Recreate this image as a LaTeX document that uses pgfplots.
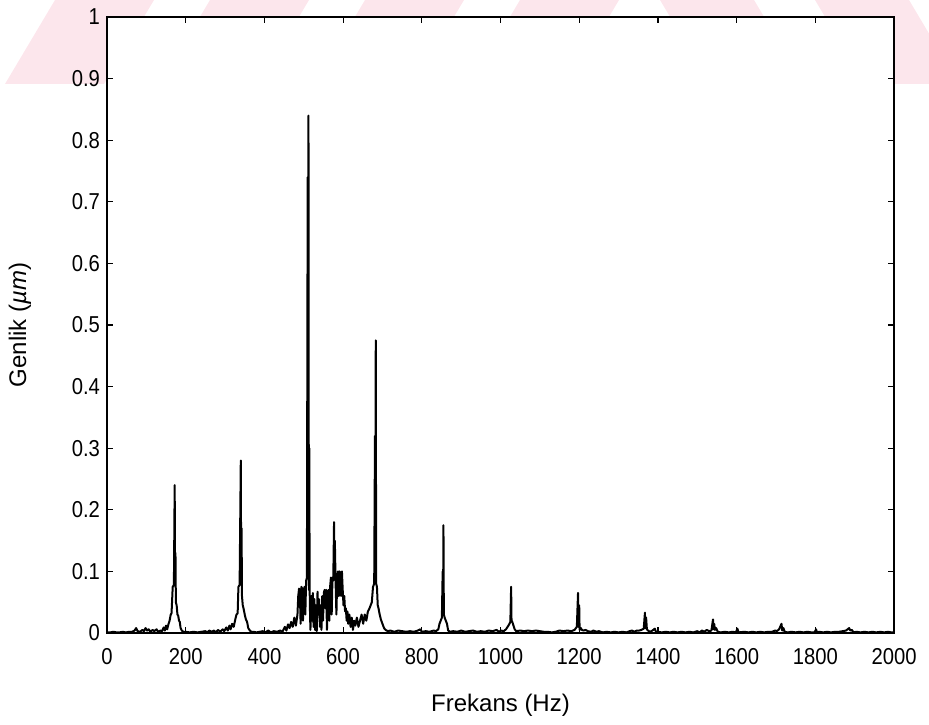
\documentclass[border=0pt]{standalone}
\usepackage{fontspec}
\setmainfont{Liberation Sans}
\newfontfamily\tickfont[FakeStretch=0.88]{Liberation Sans}
\usepackage{pgfplots}
\pgfplotsset{compat=1.18}
\usepackage{pgfplotstable}
\definecolor{wm}{RGB}{252,230,236}

\pgfplotstableread{
f a
0 0.001
8 0.001
16 0.002
24 0.001
32 0.001
40 0.002
48 0.001
56 0.002
64 0.002
70 0.004
74 0.008
78 0.003
84 0.002
90 0.005
94 0.003
98 0.008
102 0.004
106 0.006
110 0.002
116 0.005
120 0.003
126 0.006
130 0.002
136 0.004
140 0.003
144 0.009
147 0.004
150 0.012
153 0.006
156 0.014
159 0.02
162 0.03
164 0.032
167 0.075
170 0.078
172 0.24
173 0.085
174 0.13
175 0.05
177 0.045
179 0.03
181 0.028
183 0.02
185 0.018
187 0.008
190 0.004
194 0.002
200 0.002
210 0.001
220 0.002
230 0.001
240 0.002
250 0.003
255 0.001
260 0.004
266 0.002
272 0.004
277 0.001
282 0.005
288 0.002
294 0.006
298 0.003
303 0.009
307 0.004
311 0.012
314 0.006
318 0.015
322 0.01
326 0.022
329 0.03
332 0.032
334 0.075
337 0.078
340 0.28
341 0.09
342 0.17
343 0.06
345 0.045
347 0.04
350 0.03
353 0.022
356 0.018
359 0.008
363 0.004
367 0.002
372 0.002
380 0.001
388 0.002
396 0.003
402 0.001
410 0.004
416 0.001
424 0.003
432 0.002
440 0.004
446 0.002
452 0.01
456 0.004
460 0.014
464 0.008
468 0.018
472 0.01
476 0.025
480 0.012
484 0.03
486 0.06
488 0.072
490 0.07
492 0.015
494 0.075
496 0.072
498 0.02
500 0.07
502 0.075
504 0.03
506 0.085
508 0.09
510 0.74
511 0.09
512 0.84
513 0.07
514 0.3
515 0.07
516 0.03
517 0.005
519 0.06
521 0.02
523 0.065
525 0.01
527 0.055
529 0.005
531 0.045
533 0.003
535 0.067
537 0.03
539 0.055
541 0.01
543 0.045
545 0.005
547 0.06
549 0.02
551 0.065
553 0.07
555 0.04
557 0.07
559 0.005
561 0.06
563 0.07
565 0.02
567 0.075
569 0.09
571 0.03
573 0.09
575 0.085
577 0.18
578 0.09
579 0.15
581 0.08
583 0.03
585 0.09
587 0.1
589 0.06
591 0.1
593 0.095
595 0.06
597 0.1
599 0.07
601 0.045
603 0.06
605 0.035
607 0.04
609 0.02
611 0.035
613 0.015
616 0.03
619 0.01
622 0.025
625 0.005
628 0.02
631 0.012
635 0.025
639 0.01
643 0.02
647 0.03
651 0.015
655 0.03
659 0.02
663 0.035
667 0.04
670 0.045
673 0.05
676 0.075
679 0.08
681 0.32
682 0.1
683 0.475
684 0.08
686 0.075
688 0.045
690 0.04
693 0.03
696 0.022
700 0.015
704 0.008
708 0.005
714 0.003
720 0.004
730 0.002
740 0.004
750 0.003
760 0.002
770 0.003
780 0.002
790 0.004
796 0.006
800 0.002
810 0.003
820 0.002
830 0.004
836 0.003
842 0.006
845 0.015
848 0.02
851 0.025
853 0.1
854 0.035
855 0.175
856 0.03
858 0.025
861 0.02
864 0.015
867 0.004
872 0.002
880 0.003
890 0.002
900 0.004
910 0.002
920 0.003
930 0.004
940 0.002
950 0.003
960 0.002
970 0.004
980 0.003
990 0.005
996 0.002
1002 0.004
1008 0.003
1014 0.006
1018 0.01
1022 0.014
1025 0.018
1027 0.075
1028 0.02
1030 0.018
1033 0.012
1036 0.006
1040 0.003
1050 0.004
1060 0.003
1070 0.004
1080 0.003
1090 0.004
1100 0.003
1110 0.002
1120 0.002
1130 0.001
1140 0.002
1150 0.004
1160 0.003
1170 0.004
1180 0.003
1188 0.005
1194 0.01
1197 0.065
1198 0.01
1200 0.045
1201 0.005
1204 0.008
1207 0.005
1211 0.004
1216 0.005
1222 0.003
1230 0.002
1236 0.004
1244 0.002
1250 0.003
1260 0.001
1270 0.002
1280 0.001
1290 0.002
1300 0.001
1310 0.002
1320 0.001
1328 0.003
1334 0.004
1340 0.002
1346 0.004
1352 0.004
1358 0.005
1364 0.007
1367 0.033
1368 0.008
1370 0.025
1372 0.006
1375 0.004
1380 0.002
1386 0.004
1392 0.007
1395 0.002
1400 0.002
1410 0.001
1420 0.002
1430 0.001
1440 0.002
1450 0.001
1460 0.002
1470 0.001
1480 0.002
1490 0.001
1500 0.003
1506 0.001
1512 0.004
1518 0.002
1524 0.005
1530 0.003
1536 0.004
1540 0.022
1541 0.006
1543 0.015
1545 0.005
1548 0.008
1552 0.002
1560 0.001
1570 0.002
1580 0.001
1590 0.002
1598 0.001
1602 0.007
1605 0.001
1620 0.002
1630 0.001
1640 0.002
1650 0.001
1660 0.002
1670 0.001
1680 0.002
1690 0.002
1698 0.004
1702 0.003
1708 0.006
1714 0.015
1716 0.004
1719 0.008
1722 0.002
1730 0.001
1740 0.002
1750 0.001
1760 0.002
1770 0.001
1780 0.002
1790 0.001
1798 0.001
1802 0.006
1804 0.001
1810 0.002
1820 0.001
1830 0.002
1840 0.001
1850 0.002
1860 0.002
1870 0.003
1878 0.004
1886 0.008
1889 0.004
1893 0.005
1897 0.001
1905 0.002
1915 0.001
1925 0.002
1935 0.001
1945 0.002
1955 0.001
1965 0.002
1975 0.001
1985 0.002
1993 0.001
2000 0.001
}\spectrum

\begin{document}
\begin{tikzpicture}
\path[use as bounding box] (0,0) rectangle (464.5pt,362pt);
% watermark stripes
\fill[wm] (27.5pt,362pt) -- (77pt,362pt) -- (52pt,320pt) -- (2.5pt,320pt) -- cycle;
\fill[wm] (105pt,362pt) -- (154.5pt,362pt) -- (129.5pt,320pt) -- (80pt,320pt) -- cycle;
\fill[wm] (182.5pt,362pt) -- (232pt,362pt) -- (207pt,320pt) -- (157.5pt,320pt) -- cycle;
\fill[wm] (260pt,362pt) -- (309.5pt,362pt) -- (284.5pt,320pt) -- (235pt,320pt) -- cycle;
\fill[wm] (330pt,362pt) -- (377pt,362pt) -- (402pt,320pt) -- (355pt,320pt) -- cycle;
\fill[wm] (407.5pt,362pt) -- (454.5pt,362pt) -- (479.5pt,320pt) -- (432.5pt,320pt) -- cycle;
\begin{axis}[
  at={(53.5pt,45.5pt)}, anchor=south west,
  scale only axis, width=393.5pt, height=308pt,
  xmin=0, xmax=2000, ymin=0, ymax=1,
  xtick={0,200,...,2000},
  ytick={0,0.1,...,1},
  tick pos=both, tick align=inside,
  major tick length=3pt,
  axis line style={line width=0.8pt},
  every tick/.style={black, line width=0.6pt},
  scaled ticks=false,
  /pgf/number format/1000 sep={},
  /pgf/number format/assume math mode=true,
  ticklabel style={font=\tickfont\fontsize{11.5}{12}\selectfont},
  xticklabel style={yshift=-4pt},
  yticklabel style={/pgf/number format/fixed, /pgf/number format/precision=1},
  xlabel={Frekans (Hz)},
  ylabel={Genlik (\textit{µm})},
  label style={font=\fontsize{12}{14}\selectfont},
  xlabel style={at={(axis description cs:0.5,-0.117)}, anchor=center},
  ylabel style={at={(axis description cs:-0.1105,0.5)}, anchor=center},
  axis background/.style={fill=white},
]
\addplot[black, line width=1pt, line join=round] table[x=f, y=a] {\spectrum};
\end{axis}
\end{tikzpicture}
\end{document}
